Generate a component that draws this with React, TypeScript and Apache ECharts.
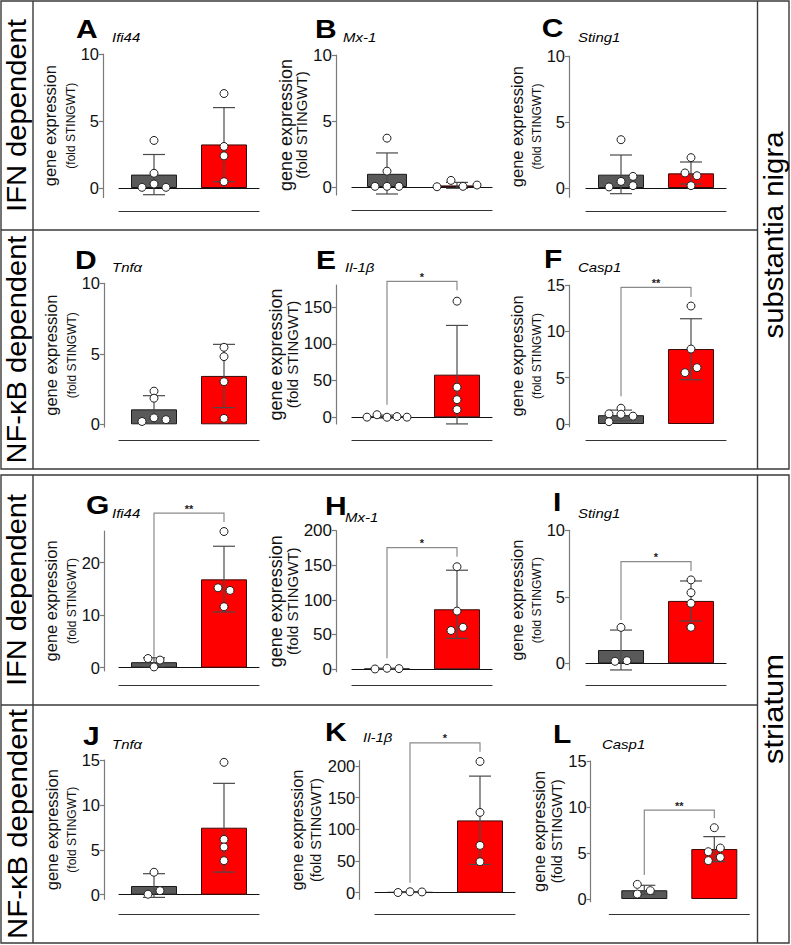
import React, { useEffect, useRef } from 'react';
import * as echarts from 'echarts';

const FONT = '"Liberation Sans", Arial, Helvetica, sans-serif';

// ---------------- data ----------------
const PANEL_LETTERS = ['A', 'B', 'C', 'D', 'E', 'F', 'G', 'H', 'I', 'J', 'K', 'L'];
const GENE_NAMES = ['Ifi44', 'Mx-1', 'Sting1', 'Tnfα', 'Il-1β', 'Casp1', 'Ifi44', 'Mx-1', 'Sting1', 'Tnfα', 'Il-1β', 'Casp1'];
const GROUPS = ['STING WT', 'STING KO'];
const ROW_LABELS = ['IFN dependent', 'NF-κB dependent', 'IFN dependent', 'NF-κB dependent'];
const REGION_LABELS = ['substantia nigra', 'striatum'];

const Y_RANGES = [
  [-0.7, 10], [-0.6, 10], [-0.7, 10],
  [-0.2, 10], [-9, 180], [-0.3, 15],
  [-0.6, 26], [-3.4, 200], [-0.5, 10],
  [-0.52, 15], [-10.5, 208], [-0.29, 15],
];
const Y_TICKS = [
  [0, 5, 10], [0, 5, 10], [0, 5, 10],
  [0, 5, 10], [0, 50, 100, 150], [0, 5, 10, 15],
  [0, 10, 20], [0, 50, 100, 150, 200], [0, 5, 10],
  [0, 5, 10, 15], [0, 50, 100, 150, 200], [0, 5, 10, 15],
];
const MEAN_WT = [1.0, 1.0, 1.01, 1.06, 1.0, 0.95, 1.05, 1.0, 1.0, 0.97, 1.0, 0.95];
const MEAN_KO = [3.25, 0.12, 1.11, 3.43, 58, 8.09, 16.8, 86.6, 4.69, 7.46, 113.9, 5.43];
const SD_WT = [
  [-0.5, 2.5], [-0.53, 2.58], [-0.43, 2.5],
  [0.08, 2.03], [-1, 3], [0.36, 1.5],
  [0.2, 1.9], [0.4, 1.6], [-0.5, 2.5],
  [-0.3, 2.34], [0.3, 1.7], [0.5, 1.49],
];
const SD_KO = [
  [0.47, 6.0], [-0.1, 0.35], [0.3, 1.97],
  [1.18, 5.67], [-9, 125], [4.78, 11.36],
  [10.6, 23.1], [44.7, 143], [3.18, 6.19],
  [2.52, 12.4], [44.6, 183.7], [4.06, 6.78],
];
const POINTS_WT = [
  [3.55, 1.1, 0.3, 0.05, 0.05],
  [3.7, 1.2, 0.05, 0.05, 0.05],
  [3.66, 0.5, 0.08, 0.88, 0.18],
  [2.35, 1.85, 0.46, 0.2, 0.33],
  [0.2, 3.5, 0.1, 1.0, 0.2],
  [1.1, 0.25, 1.7, 1.05, 0.85],
  [1.75, 0.15, 1.45],
  [0.5, 1.5, 1.0],
  [2.7, 0.15, 0.2],
  [0.05, 2.5, 0.45],
  [0.3, 1.5, 1.2],
  [1.59, 0.54, 0.91],
];
const POINTS_KO = [
  [7.05, 3.1, 2.4, 0.47],
  [0.02, 0.5, 0.05, 0.15],
  [2.3, 1.14, 0.93, 0.18],
  [5.46, 4.8, 3.02, 0.42],
  [158, 41, 24, 10.5],
  [12.73, 8.09, 6.08, 5.54],
  [25.9, 15.2, 14.7, 11.6],
  [148, 84, 56, 60.6],
  [6.27, 5.31, 4.51, 2.71],
  [14.74, 6.16, 5.31, 3.79],
  [206.8, 126.5, 74.5, 48.8],
  [7.75, 5.14, 5.54, 4.17, 4.53],
];
const SIG_STARS = ['', '', '', '', '*', '**', '**', '*', '*', '', '*', '**'];
// [left foot, right foot, bracket top] in data units
const SIG_LEVELS: (number[] | null)[] = [
  null, null, null,
  null, [17, 173, 185], [3.0, 13.7, 14.75],
  [2.1, 27.7, 29.4], [16, 162.5, 175.5], [3.25, 6.94, 7.64],
  null, [15.7, 222, 236], [2.6, 8.77, 9.67],
];

// ---------------- layout (px) ----------------
const JITTER_WT = [
  [0, 0, 0, -12, 12], [0, 0, -12, 0, 12], [0, 0, -12, 12, 12],
  [0, 0, 0, -12, 12], [-20, -10, 0, 10, 20], [-12, -12, 0, 0, 12],
  [-6, 0, 6], [-12, 0, 12], [0, -6, 6],
  [-6, 0, 6], [-12, 0, 12], [-7, -7, 6],
];
const JITTER_KO = [
  [0, 0, 0, 0], [-20, -6, 6, 20], [0, -6, 6, 0],
  [0, 0, 0, 0], [0, 0, 0, 0], [0, 0, 6, -6],
  [0, -6, 6, 0], [0, 0, -6, 6], [0, 0, 0, 0],
  [0, 0, 0, 0], [0, 0, 0, 0], [0, -6, 6, -6, 6],
];
const PANEL_LAYOUT = [
  { ax: 103, l: 119, r: 259, top: 54, y0: 188, low: 211, barW: 46, tickFs: 16.5, gFs: 16.5, fFs: 12, gCx: 55, fCx: 76, zero: true, letter: [76, 29.5], gene: [112, 37] },
  { ax: 336, l: 352, r: 492, top: 55, y0: 187, low: 210, barW: 40, tickFs: 17, gFs: 18, fFs: 15, gCx: 286.5, fCx: 302.5, zero: true, letter: [315, 29.5], gene: [343, 37] },
  { ax: 569, l: 586, r: 726, top: 56, y0: 188, low: 211, barW: 46, tickFs: 16.5, gFs: 16.5, fFs: 12, gCx: 524.5, fCx: 544, zero: true, letter: [541.7, 28.5], gene: [578, 37] },
  { ax: 104, l: 119, r: 259, top: 283.3, y0: 424.3, low: 440, barW: 46, tickFs: 16.5, gFs: 16.5, fFs: 12, gCx: 55, fCx: 76, zero: false, letter: [75, 260.5], gene: [112, 267] },
  { ax: 336, l: 352, r: 492, top: 285, y0: 417.3, low: 440, barW: 46, tickFs: 17, gFs: 18, fFs: 15, gCx: 286.5, fCx: 302.5, zero: true, letter: [316, 260], gene: [345, 267] },
  { ax: 569, l: 586, r: 726, top: 285, y0: 424, low: 440, barW: 46, tickFs: 16.5, gFs: 16.5, fFs: 12, gCx: 524.5, fCx: 544, zero: false, letter: [544, 259.5], gene: [578, 267] },
  { ax: 104, l: 119, r: 259, top: 531, y0: 667.7, low: 685, barW: 46, tickFs: 16.5, gFs: 16.5, fFs: 12, gCx: 55.3, fCx: 76, zero: true, letter: [86, 505], gene: [112, 513] },
  { ax: 336, l: 352, r: 492, top: 530.7, y0: 669.3, low: 685, barW: 46, tickFs: 17, gFs: 18, fFs: 15, gCx: 286.5, fCx: 302.5, zero: true, letter: [325, 506.5], gene: [345, 517] },
  { ax: 569, l: 586, r: 726, top: 530.3, y0: 663.3, low: 685, barW: 46, tickFs: 16.5, gFs: 16.5, fFs: 12, gCx: 524.5, fCx: 544, zero: true, letter: [553, 502.5], gene: [578, 513] },
  { ax: 104, l: 119, r: 259, top: 760, y0: 894.7, low: 914.7, barW: 46, tickFs: 16.5, gFs: 16.5, fFs: 12, gCx: 55.3, fCx: 75.5, zero: true, letter: [83, 736], gene: [112, 744] },
  { ax: 359.3, l: 375, r: 515, top: 760.7, y0: 892.7, low: 914.3, barW: 46, tickFs: 16.5, gFs: 16.5, fFs: 14.5, gCx: 305.3, fCx: 324.5, zero: true, letter: [325, 732], gene: [363, 737] },
  { ax: 590.7, l: 609.3, r: 749.3, top: 761, y0: 899, low: 914.7, barW: 46, tickFs: 16.5, gFs: 16.5, fFs: 14.5, gCx: 545.3, fCx: 562.8, zero: false, letter: [553, 734], gene: [602, 744] },
];
const ROW_LABEL_POS = [[17, 115.5, 193], [17, 349.5, 228], [17, 590, 192], [17, 824, 230]];
const REGION_LABEL_POS = [[773.5, 235, 207], [773.5, 709, 110]];
const SIDE_FS = 27;

const BORDER = '#3a3a3a';
const AXIS_GRAY = '#7a7a7a';

function measureWidth(text: string, font: string) {
  const ctx = document.createElement('canvas').getContext('2d');
  if (!ctx) return text.length * 12;
  ctx.font = font;
  return ctx.measureText(text).width;
}

function buildOption() {
  const grid: any[] = [];
  const xAxis: any[] = [];
  const yAxis: any[] = [];
  const series: any[] = [];
  const graphic: any[] = [];

  PANEL_LAYOUT.forEach((L, i) => {
    const [ymin, ymax] = Y_RANGES[i];
    const ppu = (L.y0 - L.top) / ymax;
    const bottom = L.y0 - ymin * ppu;
    grid.push({ left: L.l, top: L.top, width: L.r - L.l, height: bottom - L.top, containLabel: false, outerBoundsMode: 'none' });

    xAxis.push({
      gridIndex: i, type: 'category', data: GROUPS,
      axisLine: { show: L.zero, onZero: true, lineStyle: { color: '#111', width: 1.2 } },
      axisTick: { show: false }, axisLabel: { show: false }, splitLine: { show: false },
    });
    xAxis.push({
      gridIndex: i, type: 'category', data: GROUPS, position: 'bottom', offset: L.low - bottom,
      axisLine: { show: true, onZero: false, lineStyle: { color: '#333', width: 1.2 } },
      axisTick: { show: false }, axisLabel: { show: false }, splitLine: { show: false },
    });

    const fLH = L.fFs + 2;
    const nameGap = L.ax - L.fCx - fLH / 2;
    const gLH = 2 * (L.fCx - L.gCx) - fLH;
    yAxis.push({
      gridIndex: i, type: 'value', min: ymin, max: ymax, offset: L.l - L.ax,
      axisLine: { show: true, onZero: false, lineStyle: { color: AXIS_GRAY, width: 1.2 } },
      axisTick: { show: true, length: 4, customValues: Y_TICKS[i], lineStyle: { color: AXIS_GRAY, width: 1.2 } },
      axisLabel: { customValues: Y_TICKS[i], fontSize: L.tickFs, color: '#111', fontFamily: FONT, margin: 4 },
      splitLine: { show: false },
      name: '{g|gene expression}\n{f|(fold STINGWT)}',
      nameLocation: 'middle', nameRotate: 90, nameGap,
      nameTextStyle: {
        fontFamily: FONT, color: '#111',
        rich: {
          g: { fontSize: L.gFs, fontFamily: FONT, color: '#111', lineHeight: gLH },
          f: { fontSize: L.fFs, fontFamily: FONT, color: '#111', lineHeight: fLH },
        },
      },
    });

    const xi = 2 * i;
    series.push({
      type: 'bar', xAxisIndex: xi, yAxisIndex: i, barWidth: L.barW, silent: true, z: 2,
      data: [
        { value: MEAN_WT[i], itemStyle: { color: '#595959', borderColor: '#1a1a1a', borderWidth: 1 } },
        { value: MEAN_KO[i], itemStyle: { color: '#ff0000', borderColor: '#3a0a0a', borderWidth: 1 } },
      ],
    });

    series.push({
      type: 'custom', xAxisIndex: xi, yAxisIndex: i, silent: true, z: 3, clip: false,
      itemStyle: { color: '#4a4a4a' },
      data: [[0, SD_WT[i][0], SD_WT[i][1]], [1, SD_KO[i][0], SD_KO[i][1]]],
      encode: { x: 0, y: [1, 2] },
      renderItem: (_p: any, api: any) => {
        const c = api.value(0);
        const lo = api.coord([c, api.value(1)]);
        const hi = api.coord([c, api.value(2)]);
        const w = 11;
        const st = { stroke: '#4a4a4a', lineWidth: 1.2 };
        return {
          type: 'group',
          children: [
            { type: 'line', shape: { x1: lo[0], y1: lo[1], x2: hi[0], y2: hi[1] }, style: st },
            { type: 'line', shape: { x1: hi[0] - w, y1: hi[1], x2: hi[0] + w, y2: hi[1] }, style: st },
            { type: 'line', shape: { x1: lo[0] - w, y1: lo[1], x2: lo[0] + w, y2: lo[1] }, style: st },
          ],
        };
      },
    });

    const pts: number[][] = [];
    POINTS_WT[i].forEach((v, k) => pts.push([0, v, JITTER_WT[i][k]]));
    POINTS_KO[i].forEach((v, k) => pts.push([1, v, JITTER_KO[i][k]]));
    series.push({
      type: 'custom', xAxisIndex: xi, yAxisIndex: i, silent: true, z: 5, clip: false,
      itemStyle: { color: '#ffffff' },
      data: pts,
      encode: { x: 0, y: 1 },
      renderItem: (_p: any, api: any) => {
        const pt = api.coord([api.value(0), api.value(1)]);
        return {
          type: 'circle',
          shape: { cx: pt[0] + api.value(2), cy: pt[1], r: 4 },
          style: { fill: '#ffffff', stroke: '#222', lineWidth: 1 },
        };
      },
    });

    const sig = SIG_LEVELS[i];
    if (sig) {
      const stars = SIG_STARS[i];
      series.push({
        type: 'custom', xAxisIndex: xi, yAxisIndex: i, silent: true, z: 4, clip: false,
        itemStyle: { color: '#222222' },
        data: [[0, sig[0], sig[1], sig[2]]],
        encode: { x: 0, y: [1, 2, 3] },
        renderItem: (_p: any, api: any) => {
          const a = api.coord([0, api.value(1)]);
          const at = api.coord([0, api.value(3)]);
          const bt = api.coord([1, api.value(3)]);
          const b = api.coord([1, api.value(2)]);
          return {
            type: 'group',
            children: [
              { type: 'polyline', shape: { points: [a, at, bt, b] }, style: { stroke: '#8a8a8a', lineWidth: 1.2, fill: null } },
              { type: 'text', x: (at[0] + bt[0]) / 2, y: at[1] + 1, style: { text: stars, align: 'center', verticalAlign: 'bottom', fontSize: 11, fontWeight: 'bold', fontFamily: FONT, fill: '#222222' } },
            ],
          };
        },
      });
    }

    graphic.push({
      type: 'text', x: L.letter[0], y: L.letter[1], scaleX: 1.2,
      style: { text: PANEL_LETTERS[i], fontSize: 25, fontWeight: 'bold', fontFamily: FONT, fill: '#000', align: 'left', verticalAlign: 'middle' },
    });
    graphic.push({
      type: 'text', x: L.gene[0], y: L.gene[1], scaleX: 1.15,
      style: { text: GENE_NAMES[i], fontSize: 13, fontStyle: 'italic', fontFamily: FONT, fill: '#000', align: 'left', verticalAlign: 'middle' },
    });
  });

  // frames
  const lineSt = { stroke: BORDER, lineWidth: 1.4 };
  const blocks = [[1, 469, 230], [475, 943, 705]];
  blocks.forEach(([y1, y2, mid]) => {
    graphic.push({ type: 'rect', shape: { x: 1, y: y1, width: 788, height: y2 - y1 }, style: { fill: 'transparent', ...lineSt } });
    graphic.push({ type: 'line', shape: { x1: 33, y1, x2: 33, y2 }, style: lineSt });
    graphic.push({ type: 'line', shape: { x1: 757.5, y1, x2: 757.5, y2 }, style: lineSt });
    graphic.push({ type: 'line', shape: { x1: 1, y1: mid, x2: 757.5, y2: mid }, style: lineSt });
  });

  const sideFont = `${SIDE_FS}px ${FONT}`;
  const sideText = (t: string, pos: number[]) => {
    const [x, y, len] = pos;
    const w = measureWidth(t, sideFont);
    graphic.push({
      type: 'text', x, y, rotation: Math.PI / 2, scaleX: len / w,
      style: { text: t, fontSize: SIDE_FS, fontFamily: FONT, fill: '#000', align: 'center', verticalAlign: 'middle' },
    });
  };
  ROW_LABELS.forEach((t, k) => sideText(t, ROW_LABEL_POS[k]));
  REGION_LABELS.forEach((t, k) => sideText(t, REGION_LABEL_POS[k]));

  return {
    animation: false,
    backgroundColor: '#ffffff',
    grid, xAxis, yAxis, series, graphic,
  };
}

export default function App() {
  const ref = useRef<HTMLDivElement>(null);
  useEffect(() => {
    document.body.style.margin = '0';
    const chart = echarts.init(ref.current as HTMLDivElement, null, { renderer: 'svg' });
    chart.setOption(buildOption() as any);
    return () => chart.dispose();
  }, []);
  return <div ref={ref} style={{ width: 791, height: 945 }} />;
}
